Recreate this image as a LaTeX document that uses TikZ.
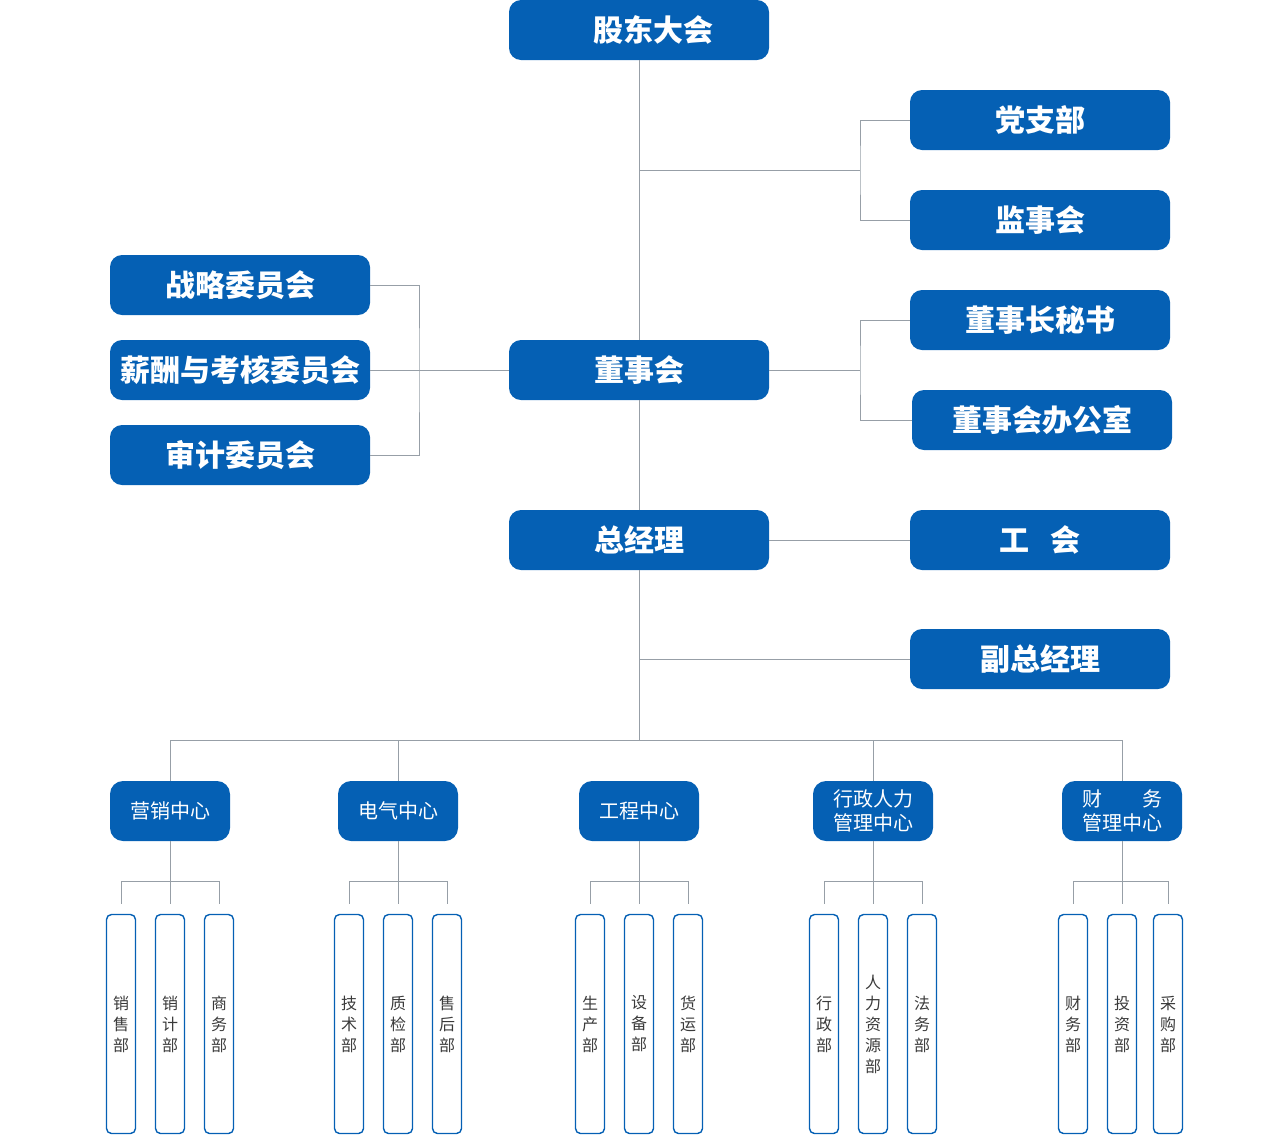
\documentclass[tikz,border=0pt]{standalone}
\usepackage{fontspec}
\newfontfamily\cjk{Noto Sans CJK SC}
\definecolor{boxblue}{HTML}{0560B4}
\definecolor{linegray}{HTML}{979FA7}
\definecolor{deptgray}{HTML}{3A3A3A}

\begin{document}
\begin{tikzpicture}[x=1pt,y=-1pt,
    bigbox/.style={fill=boxblue,rounded corners=12pt,minimum width=260pt,minimum height=60pt,inner sep=0pt,text=white,font=\cjk\bfseries\fontsize{30}{33}\selectfont},
    midbox/.style={fill=boxblue,rounded corners=13pt,minimum width=120pt,minimum height=60pt,inner sep=0pt,align=center,text=white,font=\cjk\fontsize{20}{24}\selectfont},
    deptbox/.style={draw=boxblue,line width=1.4pt,rounded corners=5pt,minimum width=29pt,minimum height=219pt,inner sep=0pt,align=center,text=deptgray,font=\cjk\fontsize{16}{21}\selectfont},
    link/.style={draw=linegray,line width=1pt}]
  \useasboundingbox (0,0) rectangle (1280,1136);
  \node[bigbox] (gd) at (639,30) {\hspace*{28pt}股东大会};
  \node[bigbox] (dzb) at (1040,120) {党支部};
  \node[bigbox] (jsh) at (1040,220) {监事会};
  \node[bigbox] (zlw) at (240,285) {战略委员会};
  \node[bigbox] (xcw) at (240,370) {薪酬与考核委员会};
  \node[bigbox] (sjw) at (240,455) {审计委员会};
  \node[bigbox] (dsh) at (639,370) {董事会};
  \node[bigbox] (msh) at (1040,320) {董事长秘书};
  \node[bigbox] (bgs) at (1042,420) {董事会办公室};
  \node[bigbox] (zjl) at (639,540) {总经理};
  \node[bigbox] (gh) at (1040,540) {工\hspace{0.7em}会};
  \node[bigbox] (fzjl) at (1040,659) {副总经理};
  \coordinate (fork1) at (860,170);
  \coordinate (fork2) at (419,370);
  \coordinate (fork3) at (860,370);
  \coordinate (bus) at (639,740);
  \coordinate (lvl3) at (0,881);
  \draw[link] (gd.south) -- (dsh.north);
  \draw[link] (dsh.south) -- (zjl.north);
  \draw[link] (zjl.south) -- (zjl.south |- bus);
  \draw[link] (gd.south |- fork1) -- (fork1);
  \draw[link] (dzb.west) -| (fork1) |- (jsh.west);
  \draw[link] (zlw.east) -| (fork2) |- (sjw.east);
  \draw[link] (xcw.east) -- (dsh.west);
  \draw[link] (dsh.east) -- (fork3);
  \draw[link] (msh.west) -| (fork3) |- (bgs.west);
  \draw[link] (zjl.east) -- (gh.west);
  \draw[link] (zjl.south |- fzjl.west) -- (fzjl.west);
  \foreach \x/\name/\txt in {170/yx/营销中心, 398/dq/电气中心, 639/gc/工程中心,
      873/xz/{行政人力\\管理中心}, 1122/cw/{\makebox[80pt]{财\hfill 务}\\管理中心}}
    \node[midbox] (\name) at (\x,811) {\txt};
  \draw[link] (yx.north |- bus) -- (cw.north |- bus);
  \foreach \name in {yx,dq,xz,cw}
    \draw[link] (\name.north |- bus) -- (\name.north);
  \foreach \x/\name/\txt in {121/yx1/{销\\售\\部}, 170/yx2/{销\\计\\部}, 219/yx3/{商\\务\\部},
      349/dq1/{技\\术\\部}, 398/dq2/{质\\检\\部}, 447/dq3/{售\\后\\部},
      590/gc1/{生\\产\\部}, 639/gc2/{设\\备\\部}, 688/gc3/{货\\运\\部},
      824/xz1/{行\\政\\部}, 873/xz2/{人\\力\\资\\源\\部}, 922/xz3/{法\\务\\部},
      1073/cw1/{财\\务\\部}, 1122/cw2/{投\\资\\部}, 1168/cw3/{采\\购\\部}}
    \node[deptbox] (\name) at (\x,1024) {\txt};
  \foreach \name in {yx,dq,gc,xz,cw} {
    \draw[link] (\name.south) -- ([yshift=10pt]\name2.north);
    \draw[link] ([yshift=10pt]\name1.north) |- (\name.south |- lvl3) -| ([yshift=10pt]\name3.north);
  }
\end{tikzpicture}
\end{document}
